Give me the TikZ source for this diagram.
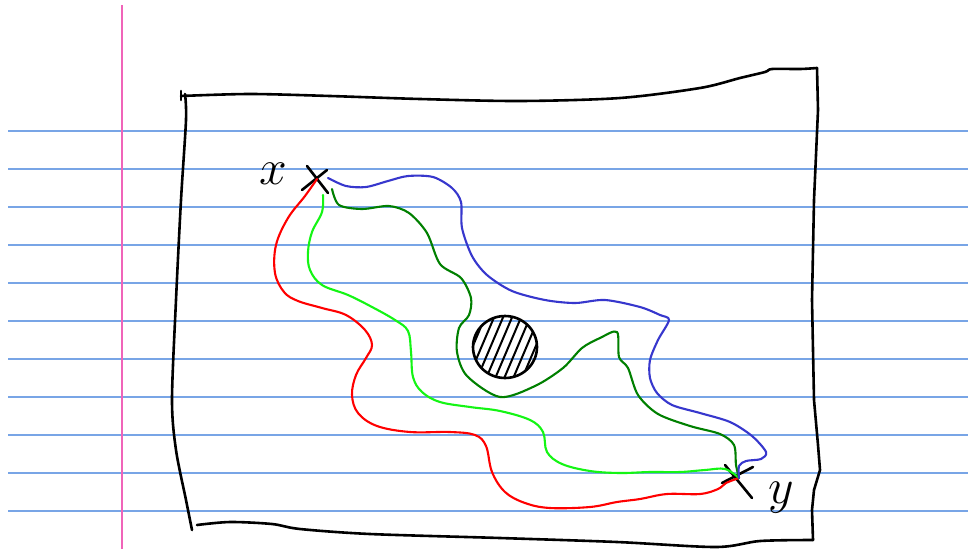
\documentclass[tikz,border=0pt]{standalone}
\definecolor{rulec}{RGB}{120,165,230}
\definecolor{marginc}{RGB}{240,100,185}
\definecolor{redc}{RGB}{255,0,0}
\definecolor{lgreen}{RGB}{20,245,20}
\definecolor{dgreen}{RGB}{0,128,0}
\definecolor{bluec}{RGB}{55,55,205}
\begin{document}
\begin{tikzpicture}[x=1pt,y=-1pt,
  rule/.style={draw=rulec,line width=1.2pt},
  margin/.style={draw=marginc,line width=1.1pt},
  ink/.style={draw=black,line width=2.6pt,line cap=round,line join=round},
  pathline/.style={line width=2.1pt,line cap=round,line join=round},
  lbl/.style={inner sep=0pt,font=\Huge,scale=2}]
\useasboundingbox[fill=white] (0,0) rectangle (968,549);
% ruled lines
\foreach \yy in {131,169,207,245,283,321,359,397,435,473,511}
  \draw[rule] (8,\yy) -- (968,\yy);
\draw[margin] (122,5) -- (122,549);
% sheet outline
\draw[ink] plot[smooth,tension=0.5] coordinates {(181,96) (250,94) (330,96) (420,99) (520,101) (620,98) (700,88) (740,78) (765,72) (772,69) (800,69) (817,68)};
\draw[ink] (817,68) -- (818,110) -- (814,200) -- (812,300) -- (814,400) -- (818,445) -- (820,470) -- (814,490) -- (812,510) -- (813,540);
\draw[ink] plot[smooth,tension=0.5] coordinates {(813,540) (760,541) (716,547) (617,542) (500,538) (370,534) (300,529) (272,524) (230,522) (197,525)};
\draw[ink] plot[smooth,tension=0.5] coordinates {(185,94) (186,120) (181,200) (176,300) (172,400) (176,450) (186,500) (192,530)};
\draw[ink] (181,91) -- (181,100);
% obstacle
\begin{scope}
  \clip (505,347) ellipse[x radius=31,y radius=30];
  \foreach \c in {472,481,...,544}
    \draw[black,line width=2pt,line cap=round] (\c-17,388) -- (\c+17,308);
\end{scope}
\draw[ink] (505,347) ellipse[x radius=32,y radius=31];
% endpoints
\coordinate (px) at (317,179);
\coordinate (py) at (739,478);
\draw[ink] (307,166) -- (328,193);
\draw[ink] (327,170) -- (302,190);
\draw[ink] (725,465) -- (752,498);
\draw[ink] (753,467) -- (722,483);
\node[lbl] (lx) at (273,174) {$x$};
\node[lbl] (ly) at (781,498) {$y$};
% paths
\draw[pathline,redc] plot[smooth,tension=0.6] coordinates {(317,179) (305,196) (288,218) (276,245) (275,273) (284,292) (298,301) (322,308) (346,315) (365,330) (372,345) (366,358) (356,375) (352,395) (358,413) (377,426) (410,432) (450,432) (475,435) (486,446) (492,472) (505,492) (525,503) (550,508) (590,507) (617,502) (640,499) (667,494) (700,494) (718,489) (726,483) (739,478)};
\draw[pathline,lgreen] plot[smooth,tension=0.6] coordinates {(323,195) (322,212) (312,232) (308,252) (310,270) (322,285) (348,295) (372,307) (395,320) (408,331) (411,352) (413,377) (422,392) (440,402) (470,407) (500,411) (530,420) (543,432) (547,452) (562,464) (590,471) (620,473) (650,472) (680,472) (705,470) (725,469) (739,478)};
\draw[pathline,dgreen] plot[smooth,tension=0.5] coordinates {(332,189) (339,205) (362,209) (389,206) (409,213) (427,233) (440,264) (461,278) (471,298) (469,315) (459,328) (457,352) (467,376) (500,397) (535,386) (563,368) (582,348) (600,338) (617,332) (619,357) (628,368) (638,395) (658,414) (690,426) (720,434) (734,445) (736,465) (739,478)};
\draw[pathline,bluec] plot[smooth,tension=0.5] coordinates {(328,178) (346,186) (366,187) (388,181) (408,176) (433,177) (452,188) (461,202) (462,228) (472,256) (487,275) (512,291) (545,300) (575,303) (605,300) (640,307) (660,315) (669,320) (658,340) (650,360) (650,378) (657,393) (672,405) (700,413) (730,422) (752,436) (766,452) (761,459) (746,461) (739,466) (739,478)};
\end{tikzpicture}
\end{document}
